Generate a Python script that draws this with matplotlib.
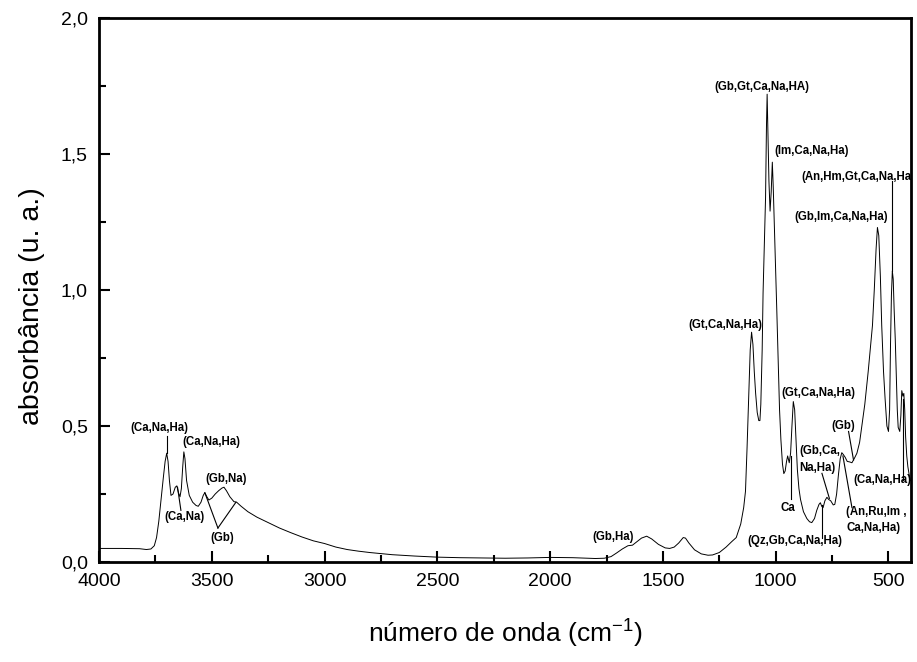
import matplotlib
matplotlib.use("Agg")
import matplotlib.pyplot as plt
from matplotlib.ticker import MultipleLocator, FuncFormatter

plt.rcParams['font.family'] = ['Liberation Sans', 'DejaVu Sans']

# FTIR spectrum: wavenumber (cm-1) and absorbance read point by point
wavenumber = [
    4000, 3900, 3820, 3790, 3770, 3755, 3745, 3735, 3725, 3715, 3707, 3700,
    3694, 3688, 3681, 3672, 3662, 3655, 3648, 3641, 3635, 3629, 3624, 3619,
    3612, 3600, 3585, 3570, 3560, 3548, 3538, 3531, 3522, 3513, 3500, 3485,
    3470, 3455, 3446, 3435, 3420, 3402, 3390, 3370, 3340, 3300, 3250, 3200,
    3150, 3100, 3050, 3000, 2950, 2900, 2850, 2800, 2750, 2700, 2600, 2500,
    2400, 2300, 2200, 2100, 2000, 1900, 1800, 1760, 1730, 1706, 1680, 1655,
    1635, 1615, 1595, 1572, 1550, 1520, 1490, 1470, 1450, 1430, 1410, 1400,
    1385, 1360, 1330, 1300, 1280, 1250, 1220, 1195, 1175, 1155, 1142, 1134,
    1127, 1119, 1113, 1107, 1101, 1095, 1089, 1082, 1075, 1070, 1066, 1060,
    1056, 1050, 1045, 1041, 1038, 1035, 1030, 1025, 1020, 1015, 1011, 1006,
    1002, 995, 989, 983, 977, 970, 964, 958, 952, 947, 940, 934, 928, 922,
    916, 910, 904, 897, 890, 877, 862, 850, 840, 828, 818, 808, 802, 796,
    790, 782, 773, 765, 756, 745, 738, 730, 722, 714, 707, 700, 692, 683,
    672, 662, 652, 640, 628, 618, 605, 590, 580, 571, 563, 555, 549, 543,
    536, 530, 522, 515, 507, 500, 495, 491, 487, 483, 479, 475, 470, 465,
    461, 457, 450, 445, 441, 436, 432, 428, 424, 419, 414, 408, 403,
]
absorbance = [
    0.050, 0.050, 0.049, 0.046, 0.048, 0.060, 0.090, 0.150, 0.230, 0.310, 0.370, 0.400,
    0.370, 0.300, 0.245, 0.250, 0.275, 0.280, 0.255, 0.240, 0.270, 0.350, 0.405, 0.380,
    0.300, 0.245, 0.220, 0.208, 0.205, 0.220, 0.245, 0.255, 0.240, 0.228, 0.235, 0.250,
    0.262, 0.272, 0.275, 0.262, 0.240, 0.222, 0.220, 0.205, 0.185, 0.165, 0.145, 0.125,
    0.108, 0.092, 0.078, 0.068, 0.055, 0.046, 0.040, 0.035, 0.031, 0.027, 0.022, 0.018,
    0.016, 0.015, 0.014, 0.015, 0.017, 0.016, 0.013, 0.014, 0.020, 0.033, 0.048, 0.060,
    0.062, 0.075, 0.088, 0.095, 0.085, 0.065, 0.052, 0.050, 0.055, 0.070, 0.090, 0.088,
    0.070, 0.045, 0.030, 0.025, 0.026, 0.035, 0.055, 0.075, 0.090, 0.140, 0.200, 0.260,
    0.420, 0.620, 0.780, 0.845, 0.800, 0.700, 0.620, 0.550, 0.520, 0.520, 0.580, 0.780,
    0.990, 1.180, 1.340, 1.600, 1.720, 1.600, 1.400, 1.290, 1.360, 1.470, 1.380, 1.240,
    1.120, 0.920, 0.740, 0.560, 0.450, 0.360, 0.325, 0.335, 0.370, 0.390, 0.365, 0.400,
    0.500, 0.590, 0.560, 0.450, 0.340, 0.270, 0.230, 0.185, 0.160, 0.148, 0.145, 0.160,
    0.190, 0.212, 0.218, 0.205, 0.200, 0.225, 0.238, 0.230, 0.225, 0.210, 0.212, 0.250,
    0.320, 0.380, 0.402, 0.395, 0.385, 0.370, 0.368, 0.365, 0.380, 0.400, 0.440, 0.500,
    0.580, 0.700, 0.790, 0.870, 1.000, 1.150, 1.230, 1.200, 1.050, 0.870, 0.700, 0.600,
    0.500, 0.480, 0.560, 0.800, 0.980, 1.070, 1.040, 0.930, 0.820, 0.680, 0.560, 0.495,
    0.480, 0.540, 0.630, 0.610, 0.620, 0.560, 0.460, 0.390, 0.350, 0.320, 0.300,
]

# band assignments: text, x, y, horizontal alignment
band_labels = ['(Ca,Na,Ha)', '(Ca,Na,Ha)', '(Ca,Na)', '(Gb,Na)', '(Gb)',
               '(Gb,Ha)', '(Gt,Ca,Na,Ha)', '(Gb,Gt,Ca,Na,HA)', '(Im,Ca,Na,Ha)',
               '(An,Hm,Gt,Ca,Na,Ha)', '(Gb,Im,Ca,Na,Ha)', '(Gt,Ca,Na,Ha)',
               '(Gb)', '(Gb,Ca,', 'Na,Ha)', '(Ca,Na,Ha)', 'Ca',
               '(Qz,Gb,Ca,Na,Ha)', '(An,Ru,Im ,', 'Ca,Na,Ha)']
label_x = [3734, 3500, 3619, 3438, 3452, 1722, 1223, 1060, 842, 634, 709,
           810, 700, 895, 895, 655, 947, 916, 689, 566]
label_y = [0.494, 0.44, 0.165, 0.305, 0.088, 0.093, 0.87, 1.745, 1.51,
           1.417, 1.27, 0.62, 0.50, 0.41, 0.345, 0.30, 0.20, 0.078, 0.185, 0.124]
label_ha = ['center'] * 13 + ['left', 'left', 'left', 'center', 'center',
                              'left', 'center']

# leader lines from labels to bands: (x1, y1, x2, y2)
leaders = [
    (3699, 0.465, 3699, 0.40),
    (3637, 0.19, 3652, 0.275),
    (3473, 0.125, 3531, 0.255),
    (3473, 0.125, 3393, 0.22),
    (933, 0.39, 933, 0.23),
    (795, 0.21, 795, 0.09),
    (795, 0.326, 762, 0.234),
    (677, 0.48, 655, 0.375),
    (702, 0.39, 662, 0.20),
    (434, 0.60, 434, 0.30),
    (485, 1.40, 485, 1.07),
]

fig = plt.figure(figsize=(9.17, 6.62), dpi=100)
ax = fig.add_axes([0.108, 0.151, 0.8855, 0.8218])

ax.plot(wavenumber, absorbance, color='black', linewidth=0.7)
for x1, y1, x2, y2 in leaders:
    ax.plot([x1, x2], [y1, y2], color='black', linewidth=0.8)

for text, x, y, ha in zip(band_labels, label_x, label_y, label_ha):
    ax.text(x, y, text, ha=ha, va='center', fontsize=8.3,
            fontweight='bold', zorder=2, clip_on=True)

ax.set_xlim(4000, 400)
ax.set_ylim(0, 2.0)
ax.xaxis.set_major_locator(MultipleLocator(500))
ax.xaxis.set_minor_locator(MultipleLocator(250))
ax.yaxis.set_major_locator(MultipleLocator(0.5))
ax.yaxis.set_minor_locator(MultipleLocator(0.25))
ax.yaxis.set_major_formatter(FuncFormatter(lambda v, _: f'{v:.1f}'.replace('.', ',')))

ax.tick_params(which='both', direction='in', top=False, right=False,
               labelsize=14, width=1.5)
ax.tick_params(which='major', length=8, pad=8)
ax.tick_params(which='minor', length=5)
for side in ax.spines.values():
    side.set_linewidth(2)

ax.set_xlabel('número de onda (cm$^{\\mathregular{-1}}$)', fontsize=19)
ax.set_ylabel('absorbância (u. a.)', fontsize=20.5)
ax.xaxis.set_label_coords(0.5, -0.10)
ax.yaxis.set_label_coords(-0.066, 0.47)

fig.savefig('out.png', dpi=100)
